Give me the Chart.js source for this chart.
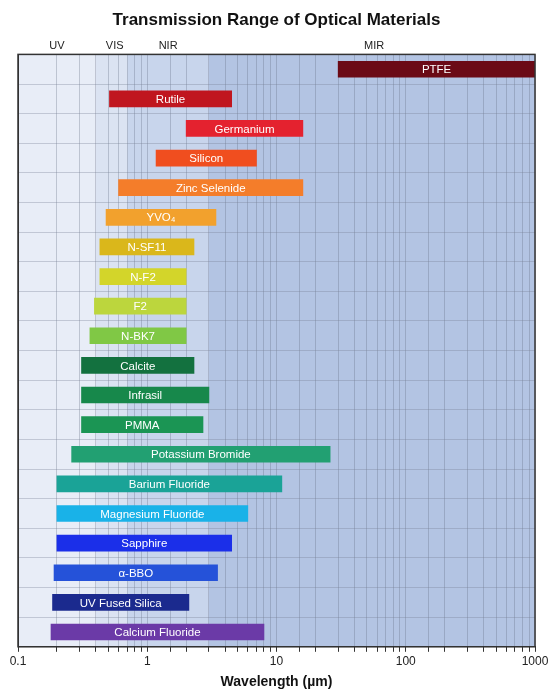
<!DOCTYPE html>
<html><head><meta charset="utf-8">
<script src="https://cdn.jsdelivr.net/npm/chart.js@4/dist/chart.umd.min.js"></script>
<style>html,body{margin:0;padding:0;background:#fff}#w{width:555px;height:699px}</style>
</head><body><div id="w"><canvas id="c"></canvas></div>
<script>
const materials = ["PTFE","Rutile","Germanium","Silicon","Zinc Selenide","YVO₄","N-SF11","N-F2","F2","N-BK7","Calcite","Infrasil","PMMA","Potassium Bromide","Barium Fluoride","Magnesium Fluoride","Sapphire","α-BBO","UV Fused Silica","Calcium Fluoride"];
const rangeMin = [30,0.51,2,1.17,0.6,0.48,0.43,0.43,0.39,0.36,0.31,0.31,0.31,0.26,0.2,0.2,0.2,0.19,0.185,0.18];
const rangeMax = [1000,4.5,16,7,16,3.4,2.3,2,2,2,2.3,3,2.7,26,11,6,4.5,3.5,2.1,8];
const barColors = ["#6b0a16","#c0161f","#e4222f","#f04e1f","#f47d2a","#f2a12d","#dab71b","#d3d52a","#bcd63d","#80c845","#13713f","#17884b","#1b9554","#22a072","#1aa397","#19b2e8","#1b2fe9","#2552d9","#1b2a8e","#6b3aa7"];
const regionNames = ["UV","VIS","NIR","MIR"];
const regionLabelAt = [0.2,0.56,1.45,57];
const regionFrom = [0.1,0.4,0.7,3];
const regionTo = [0.4,0.7,3,1000];
const regionFill = ["#e8edf7","#dbe3f2","#c8d5ec","#b3c4e3"];
const xTickLabels = [0.1,1,10,100,1000];

const FONT = "'Liberation Sans',Arial,sans-serif";
const bgPlugin = {
  id:'bg',
  beforeDraw(ch){
    const {ctx, chartArea:a, scales:{x}} = ch;
    ctx.save();
    regionFrom.forEach((f,i)=>{
      const x0 = x.getPixelForValue(f), x1 = x.getPixelForValue(regionTo[i]);
      ctx.fillStyle = regionFill[i];
      ctx.fillRect(x0, a.top, x1-x0, a.bottom-a.top);
    });
    ctx.fillStyle = '#222';
    ctx.font = "11px " + FONT;
    ctx.textAlign='center'; ctx.textBaseline='bottom';
    regionNames.forEach((n,i)=>ctx.fillText(n, x.getPixelForValue(regionLabelAt[i]), a.top-3));
    ctx.restore();
  },
  afterDatasetsDraw(ch){
    const {ctx, chartArea:a} = ch;
    const meta = ch.getDatasetMeta(0);
    ctx.save();
    ctx.fillStyle='#fff'; ctx.font = "11.5px " + FONT;
    ctx.textAlign='center'; ctx.textBaseline='middle';
    meta.data.forEach((el,i)=>{
      ctx.fillText(materials[i], (el.x+el.base)/2, el.y+1);
    });
    ctx.strokeStyle='#333'; ctx.lineWidth=1.5;
    ctx.strokeRect(a.left, a.top, a.right-a.left, a.bottom-a.top);
    ctx.restore();
  }
};

new Chart(document.getElementById('c'), {
  type:'bar',
  data:{labels:materials, datasets:[{data:materials.map((m,i)=>[rangeMin[i],rangeMax[i]]), backgroundColor:barColors, barThickness:16, borderSkipped:false}]},
  options:{
    indexAxis:'y', responsive:true, maintainAspectRatio:false, animation:false,
    layout:{padding:{left:18,right:20,top:0,bottom:4}},
    plugins:{legend:{display:false}, tooltip:{enabled:false},
      title:{display:true, text:'Transmission Range of Optical Materials', color:'#111', font:{family:FONT,size:17,weight:'bold'}, padding:{top:10,bottom:24}}},
    scales:{
      x:{type:'logarithmic', min:0.1, max:1000,
        grid:{color:'rgba(100,110,130,0.32)', drawTicks:true, tickLength:5, tickColor:'#333'},
        border:{color:'#333'},
        ticks:{autoSkip:false, color:'#222', font:{family:FONT,size:12}, maxRotation:0,
          callback:(v)=> xTickLabels.includes(Number(v)) ? String(v) : ''},
        title:{display:true, text:'Wavelength (µm)', color:'#111', font:{family:FONT,size:14,weight:'bold'}, padding:{top:2}}},
      y:{type:'category', grid:{color:'rgba(120,130,150,0.35)', offset:true, drawTicks:false}, border:{color:'#333'},
        ticks:{display:false}}
    }
  },
  plugins:[bgPlugin]
});
</script></body></html>
